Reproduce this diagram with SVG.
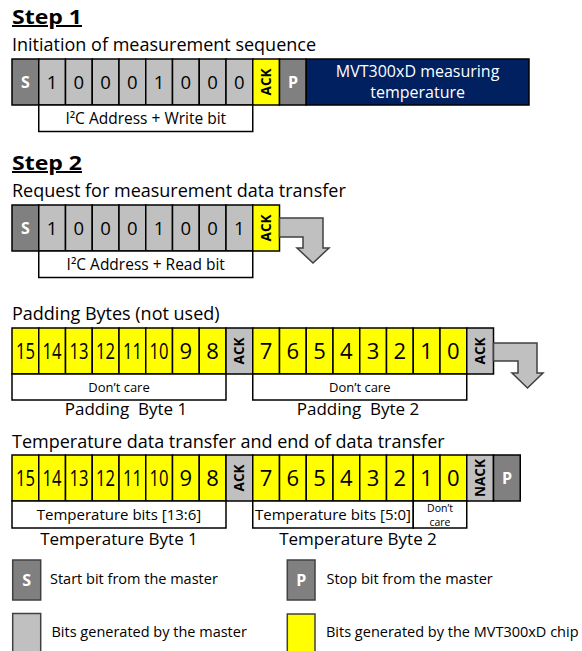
<svg xmlns="http://www.w3.org/2000/svg" width="582" height="651" viewBox="0 0 582 651">
<style>
text{font-family:"Open Sans","Liberation Sans",sans-serif;fill:#000}
.h{font-size:20px;font-weight:bold;text-decoration:underline}
.sub{font-size:18px}
rect{stroke:#000;stroke-width:1.5}
.m{fill:#c0c0c0}.y{fill:#ffff00}.d{fill:#808080}.n{fill:#002060}.w{fill:#fff}
.dig{font-size:18.5px;text-anchor:middle}
.big{font-size:22px;text-anchor:middle}
.ack{font-size:13.5px;font-weight:bold;text-anchor:middle}
.sp{font-size:16px;font-weight:bold;fill:#fff;text-anchor:middle}
.lbl{font-size:15.5px;text-anchor:middle}
.tb{font-size:15px;text-anchor:middle}
.dc{font-size:13px;text-anchor:middle}
.dc2{font-size:10.5px;text-anchor:middle}
.cap{font-size:17px;text-anchor:middle;white-space:pre}
.nv{font-size:16px;text-anchor:middle;fill:#fff}
.leg{font-size:14.5px}
.arr{fill:#c0c0c0;stroke:#404040;stroke-width:1.5;stroke-linejoin:miter}
.lg{stroke:#404040;stroke-width:1.5}
</style>

<text class="h" x="12" y="24" textLength="70" lengthAdjust="spacingAndGlyphs">Step 1</text>
<text class="sub" x="12" y="51">Initiation of measurement sequence</text>
<g id="s1">
<g id="s1-S"><rect class="d" x="12" y="59" width="26.75" height="46"/><text class="sp" x="25.4" y="87.7">S</text></g>
<g id="s1-b7"><rect class="m" x="38.75" y="59" width="26.75" height="46"/><text class="dig" x="52.1" y="88.5">1</text></g>
<g id="s1-b6"><rect class="m" x="65.5" y="59" width="26.75" height="46"/><text class="dig" x="78.9" y="88.5">0</text></g>
<g id="s1-b5"><rect class="m" x="92.25" y="59" width="26.75" height="46"/><text class="dig" x="105.6" y="88.5">0</text></g>
<g id="s1-b4"><rect class="m" x="119" y="59" width="26.75" height="46"/><text class="dig" x="132.4" y="88.5">0</text></g>
<g id="s1-b3"><rect class="m" x="145.75" y="59" width="26.75" height="46"/><text class="dig" x="159.1" y="88.5">1</text></g>
<g id="s1-b2"><rect class="m" x="172.5" y="59" width="26.75" height="46"/><text class="dig" x="185.9" y="88.5">0</text></g>
<g id="s1-b1"><rect class="m" x="199.25" y="59" width="26.75" height="46"/><text class="dig" x="212.6" y="88.5">0</text></g>
<g id="s1-b0"><rect class="m" x="226" y="59" width="26.75" height="46"/><text class="dig" x="239.4" y="88.5">0</text></g>
<g id="s1-ack"><rect class="y" x="252.75" y="59" width="26.75" height="46"/><text class="ack" transform="translate(266.1,82) rotate(-90)" x="0" y="4.8">ACK</text></g>
<g id="s1-P"><rect class="d" x="279.5" y="59" width="26.75" height="46"/><text class="sp" x="292.9" y="87.7">P</text></g>
<g id="s1-meas"><rect class="n" x="306.25" y="59" width="222.75" height="46"/><text class="nv" x="417.6" y="77">MVT300xD measuring</text><text class="nv" x="417.6" y="98">temperature</text></g>
<g id="s1-addr"><rect class="w" x="38.75" y="105" width="214" height="26.5"/><text class="lbl" x="145.75" y="123.8">I²C Address + Write bit</text></g>
</g>

<text class="h" x="12" y="170" textLength="70" lengthAdjust="spacingAndGlyphs">Step 2</text>
<text class="sub" x="12" y="197">Request for measurement data transfer</text>
<g id="s2">
<g id="s2-S"><rect class="d" x="12" y="205" width="26.75" height="46"/><text class="sp" x="25.4" y="233.7">S</text></g>
<g id="s2-b7"><rect class="m" x="38.75" y="205" width="26.75" height="46"/><text class="dig" x="52.1" y="234.5">1</text></g>
<g id="s2-b6"><rect class="m" x="65.5" y="205" width="26.75" height="46"/><text class="dig" x="78.9" y="234.5">0</text></g>
<g id="s2-b5"><rect class="m" x="92.25" y="205" width="26.75" height="46"/><text class="dig" x="105.6" y="234.5">0</text></g>
<g id="s2-b4"><rect class="m" x="119" y="205" width="26.75" height="46"/><text class="dig" x="132.4" y="234.5">0</text></g>
<g id="s2-b3"><rect class="m" x="145.75" y="205" width="26.75" height="46"/><text class="dig" x="159.1" y="234.5">1</text></g>
<g id="s2-b2"><rect class="m" x="172.5" y="205" width="26.75" height="46"/><text class="dig" x="185.9" y="234.5">0</text></g>
<g id="s2-b1"><rect class="m" x="199.25" y="205" width="26.75" height="46"/><text class="dig" x="212.6" y="234.5">0</text></g>
<g id="s2-b0"><rect class="m" x="226" y="205" width="26.75" height="46"/><text class="dig" x="239.4" y="234.5">1</text></g>
<g id="s2-ack"><rect class="y" x="252.75" y="205" width="26.75" height="46"/><text class="ack" transform="translate(266.1,228) rotate(-90)" x="0" y="4.8">ACK</text></g>
<g id="s2-addr"><rect class="w" x="38.75" y="251" width="214" height="26.5"/><text class="lbl" x="145.75" y="269.8">I²C Address + Read bit</text></g>
</g>

<text class="sub" x="12" y="320">Padding Bytes (not used)</text>
<g id="pad">
<g id="p-15"><rect class="y" x="12" y="328" width="26.75" height="46"/><text class="big" x="25.4" y="359" textLength="19" lengthAdjust="spacingAndGlyphs">15</text></g>
<g id="p-14"><rect class="y" x="38.75" y="328" width="26.75" height="46"/><text class="big" x="52.1" y="359" textLength="19" lengthAdjust="spacingAndGlyphs">14</text></g>
<g id="p-13"><rect class="y" x="65.5" y="328" width="26.75" height="46"/><text class="big" x="78.9" y="359" textLength="19" lengthAdjust="spacingAndGlyphs">13</text></g>
<g id="p-12"><rect class="y" x="92.25" y="328" width="26.75" height="46"/><text class="big" x="105.6" y="359" textLength="19" lengthAdjust="spacingAndGlyphs">12</text></g>
<g id="p-11"><rect class="y" x="119" y="328" width="26.75" height="46"/><text class="big" x="132.4" y="359" textLength="19" lengthAdjust="spacingAndGlyphs">11</text></g>
<g id="p-10"><rect class="y" x="145.75" y="328" width="26.75" height="46"/><text class="big" x="159.1" y="359" textLength="19" lengthAdjust="spacingAndGlyphs">10</text></g>
<g id="p-9"><rect class="y" x="172.5" y="328" width="26.75" height="46"/><text class="big" x="185.9" y="359">9</text></g>
<g id="p-8"><rect class="y" x="199.25" y="328" width="26.75" height="46"/><text class="big" x="212.6" y="359">8</text></g>
<g id="p-ack1"><rect class="m" x="226" y="328" width="26.75" height="46"/><text class="ack" transform="translate(239.4,351) rotate(-90)" x="0" y="4.8">ACK</text></g>
<g id="p-7"><rect class="y" x="252.75" y="328" width="26.75" height="46"/><text class="big" x="266.1" y="359">7</text></g>
<g id="p-6"><rect class="y" x="279.5" y="328" width="26.75" height="46"/><text class="big" x="292.9" y="359">6</text></g>
<g id="p-5"><rect class="y" x="306.25" y="328" width="26.75" height="46"/><text class="big" x="319.6" y="359">5</text></g>
<g id="p-4"><rect class="y" x="333" y="328" width="26.75" height="46"/><text class="big" x="346.4" y="359">4</text></g>
<g id="p-3"><rect class="y" x="359.75" y="328" width="26.75" height="46"/><text class="big" x="373.1" y="359">3</text></g>
<g id="p-2"><rect class="y" x="386.5" y="328" width="26.75" height="46"/><text class="big" x="399.9" y="359">2</text></g>
<g id="p-1"><rect class="y" x="413.25" y="328" width="26.75" height="46"/><text class="big" x="426.6" y="359">1</text></g>
<g id="p-0"><rect class="y" x="440" y="328" width="26.75" height="46"/><text class="big" x="453.4" y="359">0</text></g>
<g id="p-ack2"><rect class="m" x="466.75" y="328" width="26.75" height="46"/><text class="ack" transform="translate(480.1,351) rotate(-90)" x="0" y="4.8">ACK</text></g>
<g id="p-dc1"><rect class="w" x="12" y="374" width="214" height="26"/><text class="dc" x="119" y="392">Don’t care</text></g>
<g id="p-dc2"><rect class="w" x="252.75" y="374" width="214" height="26"/><text class="dc" x="359.75" y="392">Don’t care</text></g>
<text class="cap" x="126" y="415">Padding  Byte 1</text>
<text class="cap" x="358" y="415">Padding  Byte 2</text>
</g>

<text class="sub" x="12" y="448">Temperature data transfer and end of data transfer</text>
<g id="temp">
<g id="t-15"><rect class="y" x="12" y="455" width="26.75" height="46"/><text class="big" x="25.4" y="486" textLength="19" lengthAdjust="spacingAndGlyphs">15</text></g>
<g id="t-14"><rect class="y" x="38.75" y="455" width="26.75" height="46"/><text class="big" x="52.1" y="486" textLength="19" lengthAdjust="spacingAndGlyphs">14</text></g>
<g id="t-13"><rect class="y" x="65.5" y="455" width="26.75" height="46"/><text class="big" x="78.9" y="486" textLength="19" lengthAdjust="spacingAndGlyphs">13</text></g>
<g id="t-12"><rect class="y" x="92.25" y="455" width="26.75" height="46"/><text class="big" x="105.6" y="486" textLength="19" lengthAdjust="spacingAndGlyphs">12</text></g>
<g id="t-11"><rect class="y" x="119" y="455" width="26.75" height="46"/><text class="big" x="132.4" y="486" textLength="19" lengthAdjust="spacingAndGlyphs">11</text></g>
<g id="t-10"><rect class="y" x="145.75" y="455" width="26.75" height="46"/><text class="big" x="159.1" y="486" textLength="19" lengthAdjust="spacingAndGlyphs">10</text></g>
<g id="t-9"><rect class="y" x="172.5" y="455" width="26.75" height="46"/><text class="big" x="185.9" y="486">9</text></g>
<g id="t-8"><rect class="y" x="199.25" y="455" width="26.75" height="46"/><text class="big" x="212.6" y="486">8</text></g>
<g id="t-ack"><rect class="m" x="226" y="455" width="26.75" height="46"/><text class="ack" transform="translate(239.4,478) rotate(-90)" x="0" y="4.8">ACK</text></g>
<g id="t-7"><rect class="y" x="252.75" y="455" width="26.75" height="46"/><text class="big" x="266.1" y="486">7</text></g>
<g id="t-6"><rect class="y" x="279.5" y="455" width="26.75" height="46"/><text class="big" x="292.9" y="486">6</text></g>
<g id="t-5"><rect class="y" x="306.25" y="455" width="26.75" height="46"/><text class="big" x="319.6" y="486">5</text></g>
<g id="t-4"><rect class="y" x="333" y="455" width="26.75" height="46"/><text class="big" x="346.4" y="486">4</text></g>
<g id="t-3"><rect class="y" x="359.75" y="455" width="26.75" height="46"/><text class="big" x="373.1" y="486">3</text></g>
<g id="t-2"><rect class="y" x="386.5" y="455" width="26.75" height="46"/><text class="big" x="399.9" y="486">2</text></g>
<g id="t-1"><rect class="y" x="413.25" y="455" width="26.75" height="46"/><text class="big" x="426.6" y="486">1</text></g>
<g id="t-0"><rect class="y" x="440" y="455" width="26.75" height="46"/><text class="big" x="453.4" y="486">0</text></g>
<g id="t-nack"><rect class="m" x="466.75" y="455" width="26.75" height="46"/><text class="ack" transform="translate(480.1,478) rotate(-90)" x="0" y="4.8">NACK</text></g>
<g id="t-P"><rect class="d" x="493.5" y="455" width="26.75" height="46"/><text class="sp" x="506.9" y="483.7">P</text></g>
<g id="t-hi"><rect class="w" x="12" y="501" width="214" height="27"/><text class="tb" x="119" y="519.5">Temperature bits [13:6]</text></g>
<g id="t-lo"><rect class="w" x="252.75" y="501" width="160.5" height="27"/><text class="tb" x="333" y="519.5">Temperature bits [5:0]</text></g>
<g id="t-dc"><rect class="w" x="413.25" y="501" width="53.5" height="27"/><text class="dc2" x="440" y="511.5">Don’t</text><text class="dc2" x="440" y="525.8">care</text></g>
<text class="cap" x="119" y="545">Temperature Byte 1</text>
<text class="cap" x="358" y="545">Temperature Byte 2</text>
</g>

<g id="connectors">
<polygon class="arr" points="279.5,218 323,218 323,248 329,248 313,263 297,248 303,248 303,237 279.5,237"/>
<polygon class="arr" points="493.5,343 537,343 537,373 543,373 527.5,388 512,373 518,373 518,361 493.5,361"/>
</g>

<g id="legend">
<g id="lg-S"><rect class="d lg" x="12.7" y="560" width="28" height="40"/><text class="sp" x="26.7" y="585.7">S</text><text class="leg" x="50" y="584">Start bit from the master</text></g>
<g id="lg-P"><rect class="d lg" x="287.3" y="560" width="27.7" height="40"/><text class="sp" x="301.2" y="585.7">P</text><text class="leg" x="326.5" y="584">Stop bit from the master</text></g>
<g id="lg-m"><rect class="m lg" x="12.7" y="613.5" width="28" height="42"/><text class="leg" x="51.5" y="637">Bits generated by the master</text></g>
<g id="lg-y"><rect class="y lg" x="287.3" y="614" width="27.7" height="42"/><text class="leg" x="326" y="637">Bits generated by the MVT300xD chip</text></g>
</g>
</svg>
